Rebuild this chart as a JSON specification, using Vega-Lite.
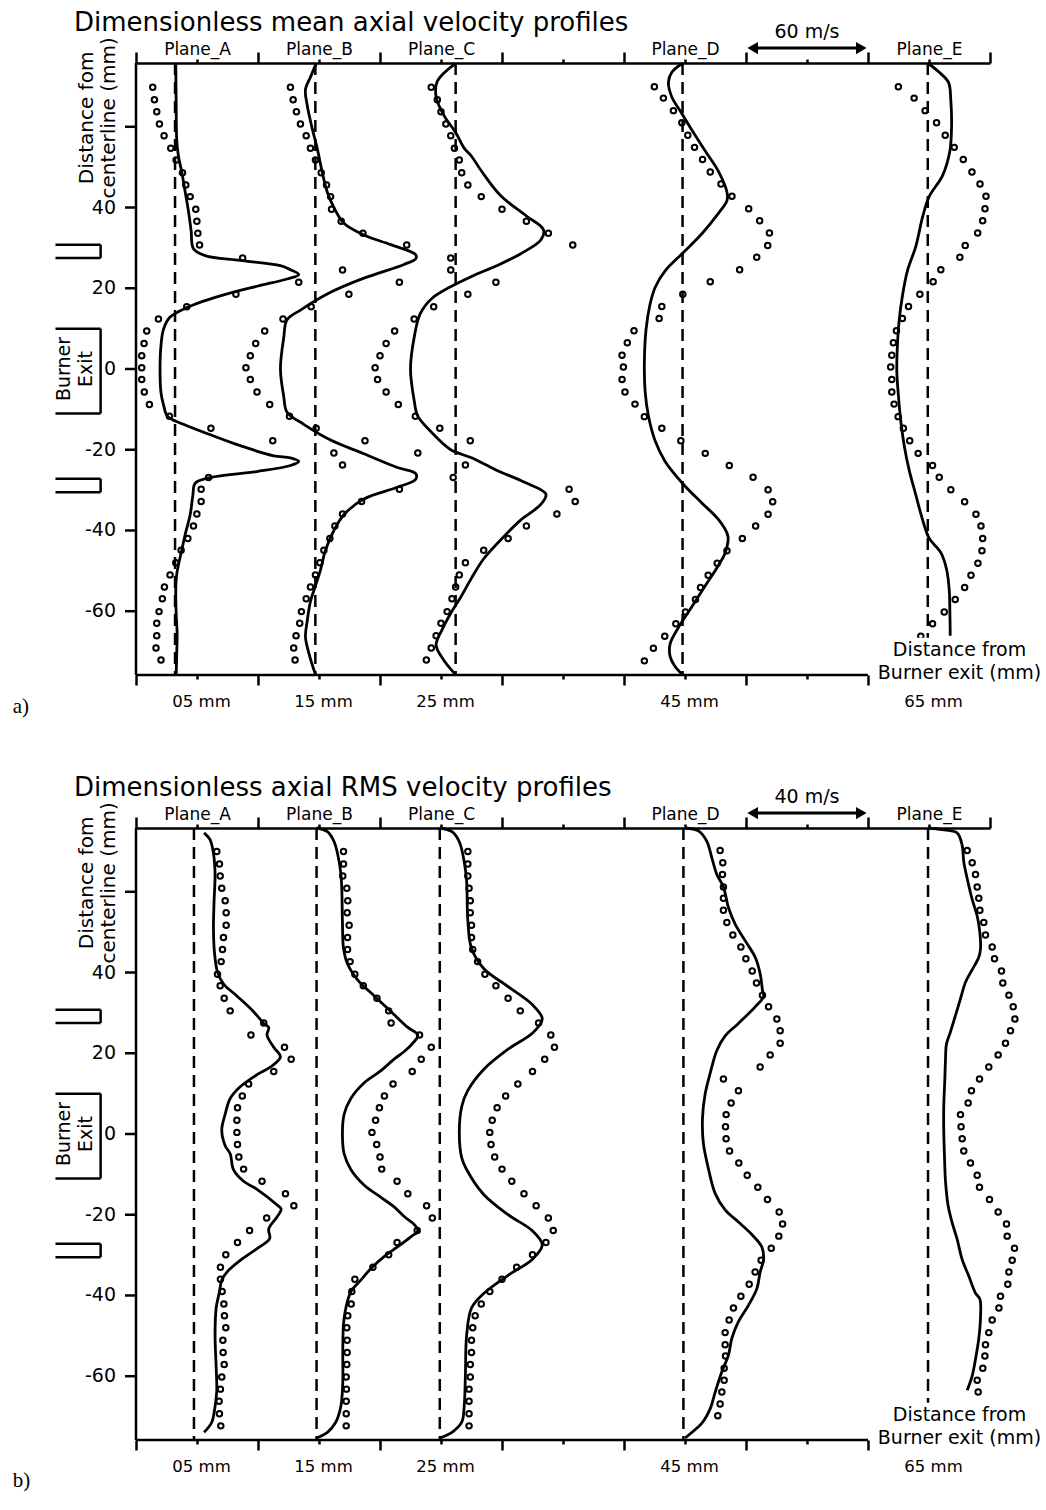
{
  "$schema": "https://vega.github.io/schema/vega-lite/v6.json",
  "background": "white",
  "padding": {"left": 12, "top": 9, "right": 4, "bottom": 4},
  "bounds": "flush",
  "spacing": 153,
  "config": {
    "font": "DejaVu Sans",
    "view": {"stroke": null},
    "axis": {
      "domainColor": "black", "tickColor": "black", "labelColor": "black", "titleColor": "black",
      "domainWidth": 2.5, "tickWidth": 2.5, "grid": false,
      "labelFont": "DejaVu Sans", "titleFont": "DejaVu Sans", "titleFontWeight": "normal"
    }
  },
  "datasets": {
    "yticks": [{"v": -60}, {"v": -40}, {"v": -20}, {"v": 0}, {"v": 20}, {"v": 40}, {"v": 60}],
    "zeros": [
      {"p": "a", "s": "A", "x": 3.2}, {"p": "a", "s": "B", "x": 14.7}, {"p": "a", "s": "C", "x": 26.2}, {"p": "a", "s": "D", "x": 44.8}, {"p": "a", "s": "E", "x": 64.9},
      {"p": "b", "s": "A", "x": 4.75}, {"p": "b", "s": "B", "x": 14.8}, {"p": "b", "s": "C", "x": 24.9}, {"p": "b", "s": "D", "x": 44.87}, {"p": "b", "s": "E", "x": 64.92}
    ],
    "burner": [
      {"x": -6.6, "x2": -2.9, "y": 30.8, "y2": 30.8}, {"x": -2.9, "x2": -2.9, "y": 27.5, "y2": 30.8}, {"x": -6.6, "x2": -2.9, "y": 27.5, "y2": 27.5},
      {"x": -6.6, "x2": -2.9, "y": -27.2, "y2": -27.2}, {"x": -2.9, "x2": -2.9, "y": -30.5, "y2": -27.2}, {"x": -6.6, "x2": -2.9, "y": -30.5, "y2": -30.5},
      {"x": -6.6, "x2": -2.9, "y": 10.0, "y2": 10.0}, {"x": -2.9, "x2": -2.9, "y": -11.0, "y2": 10.0}, {"x": -6.6, "x2": -2.9, "y": -11.0, "y2": -11.0}
    ],
    "lines": [
      {"p":"a","s":"A","x":3.26,"y":75.7},{"p":"a","s":"A","x":3.29,"y":66.4},{"p":"a","s":"A","x":3.34,"y":56.6},{"p":"a","s":"A","x":3.48,"y":52.7},{"p":"a","s":"A","x":3.75,"y":48.8},{"p":"a","s":"A","x":4.03,"y":43.9},{"p":"a","s":"A","x":4.30,"y":39.1},{"p":"a","s":"A","x":4.52,"y":34.2},{"p":"a","s":"A","x":4.71,"y":29.8},{"p":"a","s":"A","x":5.67,"y":28.1},{"p":"a","s":"A","x":8.55,"y":26.9},{"p":"a","s":"A","x":11.84,"y":25.6},{"p":"a","s":"A","x":12.66,"y":24.6},{"p":"a","s":"A","x":13.34,"y":23.4},{"p":"a","s":"A","x":12.38,"y":22.3},{"p":"a","s":"A","x":9.92,"y":20.5},{"p":"a","s":"A","x":6.90,"y":18.1},{"p":"a","s":"A","x":4.16,"y":15.2},{"p":"a","s":"A","x":2.74,"y":12.7},{"p":"a","s":"A","x":2.25,"y":9.8},{"p":"a","s":"A","x":2.05,"y":5.9},{"p":"a","s":"A","x":1.97,"y":0},{"p":"a","s":"A","x":2.05,"y":-5.9},{"p":"a","s":"A","x":2.25,"y":-8.8},{"p":"a","s":"A","x":2.58,"y":-11.7},{"p":"a","s":"A","x":3.89,"y":-13.7},{"p":"a","s":"A","x":6.36,"y":-16.6},{"p":"a","s":"A","x":8.55,"y":-19.0},{"p":"a","s":"A","x":11.29,"y":-21.5},{"p":"a","s":"A","x":12.66,"y":-22.0},{"p":"a","s":"A","x":13.34,"y":-22.9},{"p":"a","s":"A","x":12.66,"y":-23.9},{"p":"a","s":"A","x":9.92,"y":-25.4},{"p":"a","s":"A","x":6.08,"y":-26.9},{"p":"a","s":"A","x":4.85,"y":-28.3},{"p":"a","s":"A","x":4.66,"y":-31.3},{"p":"a","s":"A","x":4.44,"y":-36.1},{"p":"a","s":"A","x":4.03,"y":-41.0},{"p":"a","s":"A","x":3.75,"y":-44.9},{"p":"a","s":"A","x":3.34,"y":-50.8},{"p":"a","s":"A","x":3.26,"y":-54.7},{"p":"a","s":"A","x":3.29,"y":-60.5},{"p":"a","s":"A","x":3.37,"y":-65.4},{"p":"a","s":"A","x":3.34,"y":-70.3},{"p":"a","s":"A","x":3.29,"y":-75.7},
      {"p":"a","s":"B","x":14.77,"y":75.7},{"p":"a","s":"B","x":14.30,"y":72.3},{"p":"a","s":"B","x":13.89,"y":69.3},{"p":"a","s":"B","x":14.03,"y":65.4},{"p":"a","s":"B","x":14.44,"y":59.6},{"p":"a","s":"B","x":14.85,"y":54.7},{"p":"a","s":"B","x":15.26,"y":48.8},{"p":"a","s":"B","x":15.67,"y":43.9},{"p":"a","s":"B","x":16.22,"y":40.0},{"p":"a","s":"B","x":17.04,"y":36.1},{"p":"a","s":"B","x":18.68,"y":33.2},{"p":"a","s":"B","x":20.88,"y":30.8},{"p":"a","s":"B","x":22.93,"y":28.3},{"p":"a","s":"B","x":22.93,"y":27.3},{"p":"a","s":"B","x":21.97,"y":25.9},{"p":"a","s":"B","x":18.68,"y":22.5},{"p":"a","s":"B","x":15.95,"y":19.0},{"p":"a","s":"B","x":13.48,"y":14.6},{"p":"a","s":"B","x":12.38,"y":12.2},{"p":"a","s":"B","x":12.11,"y":7.8},{"p":"a","s":"B","x":11.84,"y":0},{"p":"a","s":"B","x":12.11,"y":-6.8},{"p":"a","s":"B","x":12.38,"y":-10.7},{"p":"a","s":"B","x":13.75,"y":-13.7},{"p":"a","s":"B","x":15.95,"y":-17.6},{"p":"a","s":"B","x":18.68,"y":-21.0},{"p":"a","s":"B","x":21.42,"y":-24.4},{"p":"a","s":"B","x":22.93,"y":-25.9},{"p":"a","s":"B","x":22.93,"y":-27.3},{"p":"a","s":"B","x":21.42,"y":-29.3},{"p":"a","s":"B","x":18.68,"y":-32.2},{"p":"a","s":"B","x":17.04,"y":-36.1},{"p":"a","s":"B","x":16.22,"y":-40.0},{"p":"a","s":"B","x":15.53,"y":-44.9},{"p":"a","s":"B","x":15.12,"y":-49.8},{"p":"a","s":"B","x":14.71,"y":-53.7},{"p":"a","s":"B","x":14.30,"y":-57.6},{"p":"a","s":"B","x":14.03,"y":-62.5},{"p":"a","s":"B","x":13.89,"y":-66.4},{"p":"a","s":"B","x":14.16,"y":-70.3},{"p":"a","s":"B","x":14.71,"y":-75.7},
      {"p":"a","s":"C","x":26.2,"y":75.7},{"p":"a","s":"C","x":24.7,"y":71.3},{"p":"a","s":"C","x":24.6,"y":67.4},{"p":"a","s":"C","x":25.3,"y":62.5},{"p":"a","s":"C","x":26.2,"y":58.6},{"p":"a","s":"C","x":26.9,"y":54.7},{"p":"a","s":"C","x":27.5,"y":52.7},{"p":"a","s":"C","x":28.3,"y":49.1},{"p":"a","s":"C","x":29.9,"y":42.9},{"p":"a","s":"C","x":32.0,"y":37.9},{"p":"a","s":"C","x":33.4,"y":34.5},{"p":"a","s":"C","x":33.2,"y":32.0},{"p":"a","s":"C","x":31.5,"y":28.5},{"p":"a","s":"C","x":29.5,"y":25.5},{"p":"a","s":"C","x":27.5,"y":22.9},{"p":"a","s":"C","x":24.3,"y":17.6},{"p":"a","s":"C","x":23.3,"y":13.7},{"p":"a","s":"C","x":22.8,"y":7.8},{"p":"a","s":"C","x":22.5,"y":0},{"p":"a","s":"C","x":22.8,"y":-7.8},{"p":"a","s":"C","x":23.1,"y":-11.7},{"p":"a","s":"C","x":24.2,"y":-15.6},{"p":"a","s":"C","x":25.8,"y":-20.0},{"p":"a","s":"C","x":27.5,"y":-22.0},{"p":"a","s":"C","x":29.5,"y":-25.0},{"p":"a","s":"C","x":31.8,"y":-28.0},{"p":"a","s":"C","x":33.6,"y":-31.0},{"p":"a","s":"C","x":33.2,"y":-33.5},{"p":"a","s":"C","x":31.5,"y":-37.5},{"p":"a","s":"C","x":30.0,"y":-42.0},{"p":"a","s":"C","x":28.5,"y":-47.0},{"p":"a","s":"C","x":27.5,"y":-51.8},{"p":"a","s":"C","x":26.6,"y":-56.6},{"p":"a","s":"C","x":25.8,"y":-60.5},{"p":"a","s":"C","x":25.1,"y":-64.5},{"p":"a","s":"C","x":24.6,"y":-68.4},{"p":"a","s":"C","x":25.2,"y":-72.0},{"p":"a","s":"C","x":26.2,"y":-75.7},
      {"p":"a","s":"D","x":44.82,"y":75.8},{"p":"a","s":"D","x":43.92,"y":73.5},{"p":"a","s":"D","x":43.64,"y":71.0},{"p":"a","s":"D","x":43.92,"y":67.4},{"p":"a","s":"D","x":44.74,"y":63.3},{"p":"a","s":"D","x":45.56,"y":59.2},{"p":"a","s":"D","x":46.66,"y":54.0},{"p":"a","s":"D","x":47.75,"y":48.9},{"p":"a","s":"D","x":48.44,"y":43.8},{"p":"a","s":"D","x":48.44,"y":41.7},{"p":"a","s":"D","x":47.75,"y":38.6},{"p":"a","s":"D","x":46.38,"y":33.5},{"p":"a","s":"D","x":44.88,"y":28.9},{"p":"a","s":"D","x":43.37,"y":24.3},{"p":"a","s":"D","x":42.55,"y":20.2},{"p":"a","s":"D","x":42.14,"y":16.1},{"p":"a","s":"D","x":41.81,"y":9.9},{"p":"a","s":"D","x":41.67,"y":1.7},{"p":"a","s":"D","x":41.73,"y":-5.5},{"p":"a","s":"D","x":42.00,"y":-11.6},{"p":"a","s":"D","x":42.55,"y":-17.8},{"p":"a","s":"D","x":43.37,"y":-22.9},{"p":"a","s":"D","x":44.88,"y":-28.6},{"p":"a","s":"D","x":46.38,"y":-33.2},{"p":"a","s":"D","x":47.75,"y":-37.3},{"p":"a","s":"D","x":48.52,"y":-41.4},{"p":"a","s":"D","x":48.30,"y":-45.5},{"p":"a","s":"D","x":47.75,"y":-48.6},{"p":"a","s":"D","x":46.66,"y":-53.7},{"p":"a","s":"D","x":45.56,"y":-58.9},{"p":"a","s":"D","x":44.47,"y":-64.0},{"p":"a","s":"D","x":43.78,"y":-68.1},{"p":"a","s":"D","x":43.78,"y":-71.2},{"p":"a","s":"D","x":44.19,"y":-73.7},{"p":"a","s":"D","x":44.82,"y":-75.8},
      {"p":"a","s":"E","x":64.88,"y":75.8},{"p":"a","s":"E","x":65.84,"y":73.5},{"p":"a","s":"E","x":66.60,"y":71.0},{"p":"a","s":"E","x":66.79,"y":66.4},{"p":"a","s":"E","x":66.85,"y":60.2},{"p":"a","s":"E","x":66.71,"y":54.0},{"p":"a","s":"E","x":66.11,"y":47.9},{"p":"a","s":"E","x":65.01,"y":42.7},{"p":"a","s":"E","x":64.47,"y":37.6},{"p":"a","s":"E","x":63.92,"y":30.4},{"p":"a","s":"E","x":63.23,"y":24.3},{"p":"a","s":"E","x":62.82,"y":18.1},{"p":"a","s":"E","x":62.55,"y":11.9},{"p":"a","s":"E","x":62.41,"y":5.8},{"p":"a","s":"E","x":62.36,"y":-0.4},{"p":"a","s":"E","x":62.49,"y":-6.5},{"p":"a","s":"E","x":62.68,"y":-12.7},{"p":"a","s":"E","x":62.96,"y":-18.8},{"p":"a","s":"E","x":63.37,"y":-25.0},{"p":"a","s":"E","x":63.92,"y":-31.2},{"p":"a","s":"E","x":64.47,"y":-37.3},{"p":"a","s":"E","x":65.01,"y":-41.9},{"p":"a","s":"E","x":65.97,"y":-45.5},{"p":"a","s":"E","x":66.44,"y":-49.6},{"p":"a","s":"E","x":66.66,"y":-54.8},{"p":"a","s":"E","x":66.71,"y":-59.9},{"p":"a","s":"E","x":66.74,"y":-66.1},
      {"p":"b","s":"A","x":5.58,"y":74.6},{"p":"b","s":"A","x":6.07,"y":72.9},{"p":"b","s":"A","x":6.35,"y":69.5},{"p":"b","s":"A","x":6.48,"y":64.6},{"p":"b","s":"A","x":6.40,"y":57.7},{"p":"b","s":"A","x":6.35,"y":50.9},{"p":"b","s":"A","x":6.43,"y":45.0},{"p":"b","s":"A","x":6.68,"y":40.1},{"p":"b","s":"A","x":7.17,"y":37.2},{"p":"b","s":"A","x":8.27,"y":34.2},{"p":"b","s":"A","x":9.64,"y":30.3},{"p":"b","s":"A","x":10.47,"y":27.4},{"p":"b","s":"A","x":10.88,"y":26.4},{"p":"b","s":"A","x":10.74,"y":24.5},{"p":"b","s":"A","x":11.29,"y":21.5},{"p":"b","s":"A","x":11.84,"y":19.1},{"p":"b","s":"A","x":11.02,"y":16.6},{"p":"b","s":"A","x":9.92,"y":14.7},{"p":"b","s":"A","x":8.54,"y":11.7},{"p":"b","s":"A","x":7.72,"y":8.8},{"p":"b","s":"A","x":7.31,"y":4.9},{"p":"b","s":"A","x":7.03,"y":1.0},{"p":"b","s":"A","x":7.31,"y":-2.9},{"p":"b","s":"A","x":7.72,"y":-4.9},{"p":"b","s":"A","x":7.99,"y":-8.8},{"p":"b","s":"A","x":8.82,"y":-11.7},{"p":"b","s":"A","x":9.92,"y":-13.7},{"p":"b","s":"A","x":11.57,"y":-17.6},{"p":"b","s":"A","x":11.90,"y":-18.6},{"p":"b","s":"A","x":11.57,"y":-20.5},{"p":"b","s":"A","x":10.88,"y":-23.5},{"p":"b","s":"A","x":10.96,"y":-25.9},{"p":"b","s":"A","x":9.92,"y":-28.4},{"p":"b","s":"A","x":8.54,"y":-31.3},{"p":"b","s":"A","x":7.45,"y":-34.2},{"p":"b","s":"A","x":7.03,"y":-36.2},{"p":"b","s":"A","x":6.84,"y":-39.1},{"p":"b","s":"A","x":6.57,"y":-43.1},{"p":"b","s":"A","x":6.48,"y":-49.9},{"p":"b","s":"A","x":6.57,"y":-57.7},{"p":"b","s":"A","x":6.62,"y":-63.6},{"p":"b","s":"A","x":6.48,"y":-67.5},{"p":"b","s":"A","x":6.21,"y":-71.4},{"p":"b","s":"A","x":5.58,"y":-73.9},
      {"p":"b","s":"B","x":14.81,"y":75.8},{"p":"b","s":"B","x":15.69,"y":74.9},{"p":"b","s":"B","x":16.24,"y":72.4},{"p":"b","s":"B","x":16.65,"y":67.5},{"p":"b","s":"B","x":16.84,"y":62.6},{"p":"b","s":"B","x":16.92,"y":52.8},{"p":"b","s":"B","x":17.01,"y":46.0},{"p":"b","s":"B","x":17.34,"y":42.1},{"p":"b","s":"B","x":18.16,"y":38.2},{"p":"b","s":"B","x":19.53,"y":34.2},{"p":"b","s":"B","x":20.91,"y":30.3},{"p":"b","s":"B","x":22.28,"y":26.4},{"p":"b","s":"B","x":23.10,"y":24.5},{"p":"b","s":"B","x":22.69,"y":22.5},{"p":"b","s":"B","x":22.01,"y":20.5},{"p":"b","s":"B","x":21.18,"y":18.6},{"p":"b","s":"B","x":20.08,"y":15.7},{"p":"b","s":"B","x":18.71,"y":12.7},{"p":"b","s":"B","x":17.61,"y":8.8},{"p":"b","s":"B","x":17.06,"y":4.9},{"p":"b","s":"B","x":16.92,"y":0},{"p":"b","s":"B","x":17.06,"y":-4.9},{"p":"b","s":"B","x":17.61,"y":-8.8},{"p":"b","s":"B","x":18.71,"y":-12.7},{"p":"b","s":"B","x":20.08,"y":-15.7},{"p":"b","s":"B","x":21.18,"y":-18.1},{"p":"b","s":"B","x":22.01,"y":-20.5},{"p":"b","s":"B","x":22.83,"y":-22.5},{"p":"b","s":"B","x":23.10,"y":-24.0},{"p":"b","s":"B","x":22.55,"y":-25.4},{"p":"b","s":"B","x":21.46,"y":-27.9},{"p":"b","s":"B","x":20.36,"y":-30.3},{"p":"b","s":"B","x":19.26,"y":-33.3},{"p":"b","s":"B","x":18.43,"y":-36.2},{"p":"b","s":"B","x":17.61,"y":-39.1},{"p":"b","s":"B","x":17.20,"y":-43.1},{"p":"b","s":"B","x":17.01,"y":-47.0},{"p":"b","s":"B","x":16.95,"y":-53.8},{"p":"b","s":"B","x":16.95,"y":-61.6},{"p":"b","s":"B","x":16.79,"y":-67.5},{"p":"b","s":"B","x":16.37,"y":-71.4},{"p":"b","s":"B","x":15.69,"y":-73.9},{"p":"b","s":"B","x":14.81,"y":-75.3},
      {"p":"b","s":"C","x":24.9,"y":75.8},{"p":"b","s":"C","x":25.9,"y":74.9},{"p":"b","s":"C","x":26.5,"y":72.4},{"p":"b","s":"C","x":26.9,"y":67.5},{"p":"b","s":"C","x":27.1,"y":62.6},{"p":"b","s":"C","x":27.2,"y":52.8},{"p":"b","s":"C","x":27.5,"y":46.0},{"p":"b","s":"C","x":28.5,"y":41.0},{"p":"b","s":"C","x":30.5,"y":36.5},{"p":"b","s":"C","x":32.5,"y":32.0},{"p":"b","s":"C","x":33.3,"y":28.5},{"p":"b","s":"C","x":32.5,"y":25.0},{"p":"b","s":"C","x":30.5,"y":21.0},{"p":"b","s":"C","x":28.5,"y":16.0},{"p":"b","s":"C","x":27.2,"y":10.8},{"p":"b","s":"C","x":26.7,"y":6.8},{"p":"b","s":"C","x":26.5,"y":0},{"p":"b","s":"C","x":26.7,"y":-5.9},{"p":"b","s":"C","x":27.1,"y":-8.8},{"p":"b","s":"C","x":28.5,"y":-15.0},{"p":"b","s":"C","x":30.5,"y":-20.0},{"p":"b","s":"C","x":32.5,"y":-24.0},{"p":"b","s":"C","x":33.3,"y":-27.5},{"p":"b","s":"C","x":32.5,"y":-31.0},{"p":"b","s":"C","x":30.5,"y":-35.0},{"p":"b","s":"C","x":28.5,"y":-39.5},{"p":"b","s":"C","x":27.5,"y":-43.1},{"p":"b","s":"C","x":27.1,"y":-49.9},{"p":"b","s":"C","x":27.0,"y":-59.7},{"p":"b","s":"C","x":26.9,"y":-67.5},{"p":"b","s":"C","x":26.7,"y":-71.4},{"p":"b","s":"C","x":25.9,"y":-73.9},{"p":"b","s":"C","x":24.9,"y":-75.3},
      {"p":"b","s":"D","x":45.01,"y":75.8},{"p":"b","s":"D","x":46.10,"y":75.1},{"p":"b","s":"D","x":46.79,"y":72.5},{"p":"b","s":"D","x":47.20,"y":68.4},{"p":"b","s":"D","x":47.61,"y":64.3},{"p":"b","s":"D","x":48.15,"y":61.2},{"p":"b","s":"D","x":48.56,"y":56.1},{"p":"b","s":"D","x":49.11,"y":52.0},{"p":"b","s":"D","x":49.93,"y":47.9},{"p":"b","s":"D","x":50.75,"y":43.8},{"p":"b","s":"D","x":51.16,"y":39.7},{"p":"b","s":"D","x":51.35,"y":35.6},{"p":"b","s":"D","x":51.44,"y":34.0},{"p":"b","s":"D","x":50.75,"y":31.5},{"p":"b","s":"D","x":49.38,"y":27.4},{"p":"b","s":"D","x":48.29,"y":24.3},{"p":"b","s":"D","x":47.61,"y":20.7},{"p":"b","s":"D","x":47.06,"y":15.0},{"p":"b","s":"D","x":46.65,"y":9.9},{"p":"b","s":"D","x":46.43,"y":3.7},{"p":"b","s":"D","x":46.51,"y":-2.4},{"p":"b","s":"D","x":46.92,"y":-8.6},{"p":"b","s":"D","x":47.47,"y":-14.7},{"p":"b","s":"D","x":48.29,"y":-18.8},{"p":"b","s":"D","x":49.38,"y":-21.8},{"p":"b","s":"D","x":50.48,"y":-24.9},{"p":"b","s":"D","x":51.30,"y":-28.0},{"p":"b","s":"D","x":51.44,"y":-31.1},{"p":"b","s":"D","x":51.16,"y":-34.2},{"p":"b","s":"D","x":50.89,"y":-38.3},{"p":"b","s":"D","x":50.21,"y":-42.4},{"p":"b","s":"D","x":49.38,"y":-46.5},{"p":"b","s":"D","x":48.84,"y":-50.6},{"p":"b","s":"D","x":48.56,"y":-54.8},{"p":"b","s":"D","x":48.02,"y":-58.9},{"p":"b","s":"D","x":47.47,"y":-64.0},{"p":"b","s":"D","x":47.06,"y":-68.1},{"p":"b","s":"D","x":46.37,"y":-71.7},{"p":"b","s":"D","x":45.01,"y":-75.3},
      {"p":"b","s":"E","x":64.92,"y":75.8},{"p":"b","s":"E","x":66.07,"y":75.4},{"p":"b","s":"E","x":67.30,"y":74.6},{"p":"b","s":"E","x":67.72,"y":71.5},{"p":"b","s":"E","x":67.85,"y":67.4},{"p":"b","s":"E","x":68.13,"y":63.3},{"p":"b","s":"E","x":68.54,"y":58.1},{"p":"b","s":"E","x":68.95,"y":54.0},{"p":"b","s":"E","x":69.17,"y":49.9},{"p":"b","s":"E","x":69.22,"y":45.8},{"p":"b","s":"E","x":69.08,"y":43.8},{"p":"b","s":"E","x":68.54,"y":40.7},{"p":"b","s":"E","x":67.99,"y":37.6},{"p":"b","s":"E","x":67.58,"y":33.5},{"p":"b","s":"E","x":67.17,"y":29.4},{"p":"b","s":"E","x":66.76,"y":25.3},{"p":"b","s":"E","x":66.43,"y":22.3},{"p":"b","s":"E","x":66.35,"y":18.2},{"p":"b","s":"E","x":66.29,"y":13.0},{"p":"b","s":"E","x":66.21,"y":6.9},{"p":"b","s":"E","x":66.21,"y":0.7},{"p":"b","s":"E","x":66.27,"y":-5.5},{"p":"b","s":"E","x":66.35,"y":-11.6},{"p":"b","s":"E","x":66.57,"y":-17.8},{"p":"b","s":"E","x":66.89,"y":-21.9},{"p":"b","s":"E","x":67.30,"y":-26.0},{"p":"b","s":"E","x":67.72,"y":-31.1},{"p":"b","s":"E","x":68.26,"y":-35.2},{"p":"b","s":"E","x":68.81,"y":-39.4},{"p":"b","s":"E","x":69.17,"y":-40.9},{"p":"b","s":"E","x":69.22,"y":-45.5},{"p":"b","s":"E","x":69.08,"y":-50.7},{"p":"b","s":"E","x":68.81,"y":-55.8},{"p":"b","s":"E","x":68.54,"y":-59.9},{"p":"b","s":"E","x":68.13,"y":-63.5}
    ],
    "pts": [
      {"p":"a","s":"A","x":1.37,"y":69.8},{"p":"a","s":"A","x":1.51,"y":66.7},{"p":"a","s":"A","x":1.70,"y":63.7},{"p":"a","s":"A","x":1.92,"y":60.7},{"p":"a","s":"A","x":2.30,"y":57.8},{"p":"a","s":"A","x":2.85,"y":54.7},{"p":"a","s":"A","x":3.29,"y":51.8},{"p":"a","s":"A","x":3.81,"y":48.6},{"p":"a","s":"A","x":4.08,"y":45.6},{"p":"a","s":"A","x":4.44,"y":42.7},{"p":"a","s":"A","x":4.90,"y":39.6},{"p":"a","s":"A","x":4.99,"y":36.6},{"p":"a","s":"A","x":5.07,"y":33.6},{"p":"a","s":"A","x":5.21,"y":30.7},{"p":"a","s":"A","x":8.74,"y":27.5},{"p":"a","s":"A","x":13.34,"y":21.5},{"p":"a","s":"A","x":8.19,"y":18.5},{"p":"a","s":"A","x":4.16,"y":15.4},{"p":"a","s":"A","x":1.84,"y":12.4},{"p":"a","s":"A","x":0.88,"y":9.4},{"p":"a","s":"A","x":0.66,"y":6.3},{"p":"a","s":"A","x":0.47,"y":3.3},{"p":"a","s":"A","x":0.47,"y":0.3},{"p":"a","s":"A","x":0.47,"y":-2.6},{"p":"a","s":"A","x":0.68,"y":-5.7},{"p":"a","s":"A","x":1.10,"y":-8.8},{"p":"a","s":"A","x":2.74,"y":-11.7},{"p":"a","s":"A","x":6.14,"y":-14.7},{"p":"a","s":"A","x":11.21,"y":-17.8},{"p":"a","s":"A","x":5.95,"y":-26.9},{"p":"a","s":"A","x":5.34,"y":-29.8},{"p":"a","s":"A","x":5.34,"y":-32.8},{"p":"a","s":"A","x":4.99,"y":-35.9},{"p":"a","s":"A","x":4.71,"y":-38.9},{"p":"a","s":"A","x":4.25,"y":-42.0},{"p":"a","s":"A","x":3.70,"y":-44.9},{"p":"a","s":"A","x":3.26,"y":-48.0},{"p":"a","s":"A","x":2.79,"y":-51.0},{"p":"a","s":"A","x":2.33,"y":-54.0},{"p":"a","s":"A","x":2.16,"y":-56.9},{"p":"a","s":"A","x":1.89,"y":-60.1},{"p":"a","s":"A","x":1.70,"y":-63.0},{"p":"a","s":"A","x":1.70,"y":-66.1},{"p":"a","s":"A","x":1.64,"y":-69.1},{"p":"a","s":"A","x":2.05,"y":-72.1},
      {"p":"a","s":"B","x":12.66,"y":69.8},{"p":"a","s":"B","x":12.88,"y":66.7},{"p":"a","s":"B","x":13.15,"y":63.7},{"p":"a","s":"B","x":13.48,"y":60.7},{"p":"a","s":"B","x":13.95,"y":57.8},{"p":"a","s":"B","x":14.30,"y":54.7},{"p":"a","s":"B","x":14.71,"y":51.8},{"p":"a","s":"B","x":15.18,"y":48.6},{"p":"a","s":"B","x":15.62,"y":45.6},{"p":"a","s":"B","x":15.95,"y":42.7},{"p":"a","s":"B","x":16.03,"y":39.6},{"p":"a","s":"B","x":16.82,"y":36.6},{"p":"a","s":"B","x":18.60,"y":33.6},{"p":"a","s":"B","x":22.19,"y":30.7},{"p":"a","s":"B","x":16.93,"y":24.5},{"p":"a","s":"B","x":21.59,"y":21.5},{"p":"a","s":"B","x":17.45,"y":18.5},{"p":"a","s":"B","x":14.36,"y":15.4},{"p":"a","s":"B","x":12.05,"y":12.4},{"p":"a","s":"B","x":10.55,"y":9.4},{"p":"a","s":"B","x":9.81,"y":6.3},{"p":"a","s":"B","x":9.37,"y":3.3},{"p":"a","s":"B","x":9.01,"y":0.3},{"p":"a","s":"B","x":9.37,"y":-2.6},{"p":"a","s":"B","x":9.92,"y":-5.7},{"p":"a","s":"B","x":10.96,"y":-8.8},{"p":"a","s":"B","x":12.58,"y":-11.7},{"p":"a","s":"B","x":14.77,"y":-14.7},{"p":"a","s":"B","x":18.77,"y":-17.8},{"p":"a","s":"B","x":16.22,"y":-20.8},{"p":"a","s":"B","x":16.93,"y":-23.8},{"p":"a","s":"B","x":21.59,"y":-29.8},{"p":"a","s":"B","x":18.49,"y":-32.8},{"p":"a","s":"B","x":16.93,"y":-35.9},{"p":"a","s":"B","x":16.30,"y":-38.9},{"p":"a","s":"B","x":15.89,"y":-42.0},{"p":"a","s":"B","x":15.40,"y":-44.9},{"p":"a","s":"B","x":15.07,"y":-48.0},{"p":"a","s":"B","x":14.71,"y":-51.0},{"p":"a","s":"B","x":14.30,"y":-54.0},{"p":"a","s":"B","x":13.95,"y":-56.9},{"p":"a","s":"B","x":13.56,"y":-60.1},{"p":"a","s":"B","x":13.42,"y":-63.0},{"p":"a","s":"B","x":13.12,"y":-66.1},{"p":"a","s":"B","x":12.93,"y":-69.1},{"p":"a","s":"B","x":13.04,"y":-72.1},
      {"p":"a","s":"C","x":24.2,"y":69.8},{"p":"a","s":"C","x":24.7,"y":66.7},{"p":"a","s":"C","x":25.0,"y":63.7},{"p":"a","s":"C","x":25.4,"y":60.7},{"p":"a","s":"C","x":25.8,"y":57.8},{"p":"a","s":"C","x":26.1,"y":54.7},{"p":"a","s":"C","x":26.5,"y":51.8},{"p":"a","s":"C","x":26.7,"y":48.6},{"p":"a","s":"C","x":27.2,"y":45.6},{"p":"a","s":"C","x":28.3,"y":42.7},{"p":"a","s":"C","x":30.0,"y":39.6},{"p":"a","s":"C","x":32.0,"y":36.6},{"p":"a","s":"C","x":33.8,"y":33.6},{"p":"a","s":"C","x":35.8,"y":30.7},{"p":"a","s":"C","x":25.8,"y":27.5},{"p":"a","s":"C","x":25.8,"y":24.5},{"p":"a","s":"C","x":29.5,"y":21.5},{"p":"a","s":"C","x":27.2,"y":18.5},{"p":"a","s":"C","x":24.4,"y":15.4},{"p":"a","s":"C","x":22.8,"y":12.4},{"p":"a","s":"C","x":21.2,"y":9.4},{"p":"a","s":"C","x":20.5,"y":6.3},{"p":"a","s":"C","x":20.0,"y":3.3},{"p":"a","s":"C","x":19.6,"y":0.3},{"p":"a","s":"C","x":19.8,"y":-2.6},{"p":"a","s":"C","x":20.5,"y":-5.7},{"p":"a","s":"C","x":21.5,"y":-8.8},{"p":"a","s":"C","x":22.9,"y":-11.7},{"p":"a","s":"C","x":24.9,"y":-14.7},{"p":"a","s":"C","x":27.4,"y":-17.8},{"p":"a","s":"C","x":23.1,"y":-20.8},{"p":"a","s":"C","x":27.0,"y":-23.8},{"p":"a","s":"C","x":26.0,"y":-26.9},{"p":"a","s":"C","x":35.5,"y":-29.8},{"p":"a","s":"C","x":36.0,"y":-32.8},{"p":"a","s":"C","x":34.5,"y":-35.9},{"p":"a","s":"C","x":32.0,"y":-38.9},{"p":"a","s":"C","x":30.5,"y":-42.0},{"p":"a","s":"C","x":28.5,"y":-44.9},{"p":"a","s":"C","x":27.0,"y":-48.0},{"p":"a","s":"C","x":26.5,"y":-51.0},{"p":"a","s":"C","x":26.2,"y":-54.0},{"p":"a","s":"C","x":25.9,"y":-56.9},{"p":"a","s":"C","x":25.5,"y":-60.1},{"p":"a","s":"C","x":25.0,"y":-63.0},{"p":"a","s":"C","x":24.6,"y":-66.1},{"p":"a","s":"C","x":24.2,"y":-69.1},{"p":"a","s":"C","x":23.8,"y":-72.1},
      {"p":"a","s":"D","x":42.49,"y":69.9},{"p":"a","s":"D","x":43.23,"y":67.1},{"p":"a","s":"D","x":44.05,"y":64.0},{"p":"a","s":"D","x":44.74,"y":61.0},{"p":"a","s":"D","x":45.23,"y":57.9},{"p":"a","s":"D","x":45.78,"y":54.9},{"p":"a","s":"D","x":46.44,"y":51.9},{"p":"a","s":"D","x":47.07,"y":48.8},{"p":"a","s":"D","x":47.95,"y":45.8},{"p":"a","s":"D","x":48.85,"y":42.8},{"p":"a","s":"D","x":50.22,"y":39.7},{"p":"a","s":"D","x":51.12,"y":36.7},{"p":"a","s":"D","x":51.92,"y":33.7},{"p":"a","s":"D","x":51.78,"y":30.6},{"p":"a","s":"D","x":50.88,"y":27.7},{"p":"a","s":"D","x":49.48,"y":24.6},{"p":"a","s":"D","x":47.07,"y":21.6},{"p":"a","s":"D","x":44.82,"y":18.5},{"p":"a","s":"D","x":43.10,"y":15.5},{"p":"a","s":"D","x":42.88,"y":12.5},{"p":"a","s":"D","x":40.82,"y":9.5},{"p":"a","s":"D","x":40.27,"y":6.5},{"p":"a","s":"D","x":39.84,"y":3.4},{"p":"a","s":"D","x":39.95,"y":0.5},{"p":"a","s":"D","x":39.84,"y":-2.6},{"p":"a","s":"D","x":40.08,"y":-5.7},{"p":"a","s":"D","x":40.90,"y":-8.7},{"p":"a","s":"D","x":41.67,"y":-11.8},{"p":"a","s":"D","x":43.10,"y":-14.7},{"p":"a","s":"D","x":44.66,"y":-17.8},{"p":"a","s":"D","x":46.66,"y":-20.9},{"p":"a","s":"D","x":48.63,"y":-23.9},{"p":"a","s":"D","x":50.58,"y":-26.8},{"p":"a","s":"D","x":51.81,"y":-29.9},{"p":"a","s":"D","x":52.19,"y":-32.9},{"p":"a","s":"D","x":51.81,"y":-36.0},{"p":"a","s":"D","x":50.79,"y":-38.9},{"p":"a","s":"D","x":49.70,"y":-42.0},{"p":"a","s":"D","x":48.44,"y":-45.0},{"p":"a","s":"D","x":47.64,"y":-48.1},{"p":"a","s":"D","x":46.90,"y":-51.1},{"p":"a","s":"D","x":46.27,"y":-54.1},{"p":"a","s":"D","x":45.86,"y":-57.1},{"p":"a","s":"D","x":45.04,"y":-60.2},{"p":"a","s":"D","x":44.25,"y":-63.1},{"p":"a","s":"D","x":43.34,"y":-66.2},{"p":"a","s":"D","x":42.41,"y":-69.2},{"p":"a","s":"D","x":41.67,"y":-72.3},
      {"p":"a","s":"E","x":62.49,"y":69.9},{"p":"a","s":"E","x":63.78,"y":67.1},{"p":"a","s":"E","x":64.68,"y":64.0},{"p":"a","s":"E","x":65.62,"y":61.0},{"p":"a","s":"E","x":66.33,"y":57.9},{"p":"a","s":"E","x":67.07,"y":54.9},{"p":"a","s":"E","x":67.81,"y":51.9},{"p":"a","s":"E","x":68.52,"y":48.8},{"p":"a","s":"E","x":69.18,"y":45.8},{"p":"a","s":"E","x":69.67,"y":42.8},{"p":"a","s":"E","x":69.59,"y":39.7},{"p":"a","s":"E","x":69.40,"y":36.7},{"p":"a","s":"E","x":68.99,"y":33.7},{"p":"a","s":"E","x":67.97,"y":30.6},{"p":"a","s":"E","x":67.53,"y":27.7},{"p":"a","s":"E","x":65.97,"y":24.6},{"p":"a","s":"E","x":65.34,"y":21.6},{"p":"a","s":"E","x":64.25,"y":18.5},{"p":"a","s":"E","x":63.32,"y":15.5},{"p":"a","s":"E","x":62.82,"y":12.5},{"p":"a","s":"E","x":62.33,"y":9.5},{"p":"a","s":"E","x":62.08,"y":6.5},{"p":"a","s":"E","x":61.95,"y":3.4},{"p":"a","s":"E","x":61.86,"y":0.5},{"p":"a","s":"E","x":61.95,"y":-2.6},{"p":"a","s":"E","x":61.95,"y":-5.7},{"p":"a","s":"E","x":62.14,"y":-8.7},{"p":"a","s":"E","x":62.47,"y":-11.8},{"p":"a","s":"E","x":62.90,"y":-14.7},{"p":"a","s":"E","x":63.42,"y":-17.8},{"p":"a","s":"E","x":64.11,"y":-20.9},{"p":"a","s":"E","x":65.29,"y":-23.9},{"p":"a","s":"E","x":65.84,"y":-26.8},{"p":"a","s":"E","x":66.79,"y":-29.9},{"p":"a","s":"E","x":67.92,"y":-32.9},{"p":"a","s":"E","x":68.85,"y":-36.0},{"p":"a","s":"E","x":69.26,"y":-38.9},{"p":"a","s":"E","x":69.40,"y":-42.0},{"p":"a","s":"E","x":69.34,"y":-45.0},{"p":"a","s":"E","x":69.01,"y":-48.1},{"p":"a","s":"E","x":68.44,"y":-51.1},{"p":"a","s":"E","x":67.92,"y":-54.1},{"p":"a","s":"E","x":67.15,"y":-57.1},{"p":"a","s":"E","x":66.25,"y":-60.2},{"p":"a","s":"E","x":65.29,"y":-63.1},{"p":"a","s":"E","x":64.33,"y":-66.2},
      {"p":"b","s":"A","x":6.62,"y":70.0},{"p":"b","s":"A","x":6.84,"y":66.9},{"p":"b","s":"A","x":6.90,"y":63.9},{"p":"b","s":"A","x":7.03,"y":60.9},{"p":"b","s":"A","x":7.31,"y":57.8},{"p":"b","s":"A","x":7.39,"y":54.8},{"p":"b","s":"A","x":7.39,"y":51.7},{"p":"b","s":"A","x":7.17,"y":48.7},{"p":"b","s":"A","x":7.09,"y":45.7},{"p":"b","s":"A","x":6.98,"y":42.7},{"p":"b","s":"A","x":6.68,"y":39.6},{"p":"b","s":"A","x":6.90,"y":36.7},{"p":"b","s":"A","x":7.23,"y":33.6},{"p":"b","s":"A","x":7.72,"y":30.5},{"p":"b","s":"A","x":10.47,"y":27.5},{"p":"b","s":"A","x":9.42,"y":24.5},{"p":"b","s":"A","x":12.17,"y":21.5},{"p":"b","s":"A","x":12.72,"y":18.5},{"p":"b","s":"A","x":11.29,"y":15.5},{"p":"b","s":"A","x":9.23,"y":12.4},{"p":"b","s":"A","x":8.71,"y":9.4},{"p":"b","s":"A","x":8.32,"y":6.5},{"p":"b","s":"A","x":8.27,"y":3.4},{"p":"b","s":"A","x":8.27,"y":0.4},{"p":"b","s":"A","x":8.32,"y":-2.6},{"p":"b","s":"A","x":8.43,"y":-5.7},{"p":"b","s":"A","x":8.82,"y":-8.7},{"p":"b","s":"A","x":10.33,"y":-11.7},{"p":"b","s":"A","x":12.25,"y":-14.8},{"p":"b","s":"A","x":12.94,"y":-17.8},{"p":"b","s":"A","x":10.71,"y":-20.8},{"p":"b","s":"A","x":9.31,"y":-23.9},{"p":"b","s":"A","x":8.32,"y":-26.9},{"p":"b","s":"A","x":7.36,"y":-29.9},{"p":"b","s":"A","x":6.92,"y":-33.0},{"p":"b","s":"A","x":6.92,"y":-36.0},{"p":"b","s":"A","x":7.06,"y":-39.0},{"p":"b","s":"A","x":7.20,"y":-42.1},{"p":"b","s":"A","x":7.25,"y":-45.0},{"p":"b","s":"A","x":7.36,"y":-48.0},{"p":"b","s":"A","x":7.12,"y":-51.1},{"p":"b","s":"A","x":7.14,"y":-54.1},{"p":"b","s":"A","x":7.23,"y":-57.1},{"p":"b","s":"A","x":7.03,"y":-60.2},{"p":"b","s":"A","x":6.92,"y":-63.2},{"p":"b","s":"A","x":6.81,"y":-66.2},{"p":"b","s":"A","x":6.84,"y":-69.3},{"p":"b","s":"A","x":6.95,"y":-72.3},
      {"p":"b","s":"B","x":17.01,"y":70.0},{"p":"b","s":"B","x":17.01,"y":66.9},{"p":"b","s":"B","x":16.95,"y":63.9},{"p":"b","s":"B","x":17.28,"y":60.9},{"p":"b","s":"B","x":17.36,"y":57.8},{"p":"b","s":"B","x":17.31,"y":54.8},{"p":"b","s":"B","x":17.47,"y":51.7},{"p":"b","s":"B","x":17.34,"y":48.7},{"p":"b","s":"B","x":17.34,"y":45.7},{"p":"b","s":"B","x":17.55,"y":42.7},{"p":"b","s":"B","x":17.94,"y":39.6},{"p":"b","s":"B","x":18.63,"y":36.7},{"p":"b","s":"B","x":19.75,"y":33.6},{"p":"b","s":"B","x":20.71,"y":30.5},{"p":"b","s":"B","x":20.91,"y":27.5},{"p":"b","s":"B","x":23.24,"y":24.5},{"p":"b","s":"B","x":24.20,"y":21.5},{"p":"b","s":"B","x":23.38,"y":18.5},{"p":"b","s":"B","x":22.64,"y":15.5},{"p":"b","s":"B","x":21.07,"y":12.4},{"p":"b","s":"B","x":20.36,"y":9.4},{"p":"b","s":"B","x":19.95,"y":6.5},{"p":"b","s":"B","x":19.64,"y":3.4},{"p":"b","s":"B","x":19.34,"y":0.4},{"p":"b","s":"B","x":19.73,"y":-2.6},{"p":"b","s":"B","x":20.00,"y":-5.7},{"p":"b","s":"B","x":20.14,"y":-8.7},{"p":"b","s":"B","x":21.40,"y":-11.7},{"p":"b","s":"B","x":22.28,"y":-14.8},{"p":"b","s":"B","x":23.82,"y":-17.8},{"p":"b","s":"B","x":24.29,"y":-20.8},{"p":"b","s":"B","x":23.05,"y":-23.9},{"p":"b","s":"B","x":21.40,"y":-26.9},{"p":"b","s":"B","x":20.71,"y":-29.9},{"p":"b","s":"B","x":19.42,"y":-33.0},{"p":"b","s":"B","x":17.94,"y":-36.0},{"p":"b","s":"B","x":17.69,"y":-39.0},{"p":"b","s":"B","x":17.64,"y":-42.1},{"p":"b","s":"B","x":17.36,"y":-45.0},{"p":"b","s":"B","x":17.28,"y":-48.0},{"p":"b","s":"B","x":17.31,"y":-51.1},{"p":"b","s":"B","x":17.31,"y":-54.1},{"p":"b","s":"B","x":17.28,"y":-57.1},{"p":"b","s":"B","x":17.23,"y":-60.2},{"p":"b","s":"B","x":17.25,"y":-63.2},{"p":"b","s":"B","x":17.23,"y":-66.2},{"p":"b","s":"B","x":17.23,"y":-69.3},{"p":"b","s":"B","x":17.23,"y":-72.3},
      {"p":"b","s":"C","x":27.2,"y":70.0},{"p":"b","s":"C","x":27.2,"y":66.9},{"p":"b","s":"C","x":27.2,"y":63.9},{"p":"b","s":"C","x":27.3,"y":60.9},{"p":"b","s":"C","x":27.4,"y":57.8},{"p":"b","s":"C","x":27.4,"y":54.8},{"p":"b","s":"C","x":27.5,"y":51.7},{"p":"b","s":"C","x":27.5,"y":48.7},{"p":"b","s":"C","x":27.6,"y":45.7},{"p":"b","s":"C","x":28.0,"y":42.7},{"p":"b","s":"C","x":28.6,"y":39.6},{"p":"b","s":"C","x":29.5,"y":36.7},{"p":"b","s":"C","x":30.5,"y":33.6},{"p":"b","s":"C","x":31.5,"y":30.5},{"p":"b","s":"C","x":33.0,"y":27.5},{"p":"b","s":"C","x":34.0,"y":24.5},{"p":"b","s":"C","x":34.3,"y":21.5},{"p":"b","s":"C","x":33.5,"y":18.5},{"p":"b","s":"C","x":32.5,"y":15.5},{"p":"b","s":"C","x":31.3,"y":12.4},{"p":"b","s":"C","x":30.3,"y":9.4},{"p":"b","s":"C","x":29.6,"y":6.5},{"p":"b","s":"C","x":29.2,"y":3.4},{"p":"b","s":"C","x":29.0,"y":0.4},{"p":"b","s":"C","x":29.1,"y":-2.6},{"p":"b","s":"C","x":29.4,"y":-5.7},{"p":"b","s":"C","x":30.0,"y":-8.7},{"p":"b","s":"C","x":30.8,"y":-11.7},{"p":"b","s":"C","x":31.8,"y":-14.8},{"p":"b","s":"C","x":32.8,"y":-17.8},{"p":"b","s":"C","x":33.8,"y":-20.8},{"p":"b","s":"C","x":34.2,"y":-23.9},{"p":"b","s":"C","x":33.6,"y":-26.9},{"p":"b","s":"C","x":32.5,"y":-29.9},{"p":"b","s":"C","x":31.2,"y":-33.0},{"p":"b","s":"C","x":30.0,"y":-36.0},{"p":"b","s":"C","x":29.0,"y":-39.0},{"p":"b","s":"C","x":28.3,"y":-42.1},{"p":"b","s":"C","x":27.8,"y":-45.0},{"p":"b","s":"C","x":27.6,"y":-48.0},{"p":"b","s":"C","x":27.5,"y":-51.1},{"p":"b","s":"C","x":27.5,"y":-54.1},{"p":"b","s":"C","x":27.4,"y":-57.1},{"p":"b","s":"C","x":27.4,"y":-60.2},{"p":"b","s":"C","x":27.3,"y":-63.2},{"p":"b","s":"C","x":27.3,"y":-66.2},{"p":"b","s":"C","x":27.3,"y":-69.3},{"p":"b","s":"C","x":27.3,"y":-72.3},
      {"p":"b","s":"D","x":47.88,"y":70.2},{"p":"b","s":"D","x":48.10,"y":67.2},{"p":"b","s":"D","x":48.07,"y":64.3},{"p":"b","s":"D","x":48.15,"y":61.2},{"p":"b","s":"D","x":48.15,"y":58.4},{"p":"b","s":"D","x":48.15,"y":55.4},{"p":"b","s":"D","x":48.43,"y":52.4},{"p":"b","s":"D","x":48.92,"y":49.3},{"p":"b","s":"D","x":49.58,"y":46.3},{"p":"b","s":"D","x":49.99,"y":43.4},{"p":"b","s":"D","x":50.51,"y":40.4},{"p":"b","s":"D","x":50.86,"y":37.4},{"p":"b","s":"D","x":51.35,"y":34.4},{"p":"b","s":"D","x":51.85,"y":31.5},{"p":"b","s":"D","x":52.53,"y":28.5},{"p":"b","s":"D","x":52.80,"y":25.6},{"p":"b","s":"D","x":52.80,"y":22.5},{"p":"b","s":"D","x":51.98,"y":19.6},{"p":"b","s":"D","x":51.16,"y":16.6},{"p":"b","s":"D","x":48.15,"y":13.6},{"p":"b","s":"D","x":49.38,"y":10.7},{"p":"b","s":"D","x":48.78,"y":7.7},{"p":"b","s":"D","x":48.37,"y":4.8},{"p":"b","s":"D","x":48.32,"y":1.8},{"p":"b","s":"D","x":48.37,"y":-1.2},{"p":"b","s":"D","x":48.65,"y":-4.2},{"p":"b","s":"D","x":49.41,"y":-7.2},{"p":"b","s":"D","x":50.10,"y":-10.2},{"p":"b","s":"D","x":50.97,"y":-13.2},{"p":"b","s":"D","x":51.76,"y":-16.2},{"p":"b","s":"D","x":52.72,"y":-19.3},{"p":"b","s":"D","x":53.00,"y":-22.3},{"p":"b","s":"D","x":52.69,"y":-25.3},{"p":"b","s":"D","x":52.07,"y":-28.3},{"p":"b","s":"D","x":51.24,"y":-31.3},{"p":"b","s":"D","x":50.75,"y":-34.2},{"p":"b","s":"D","x":50.26,"y":-37.2},{"p":"b","s":"D","x":49.58,"y":-40.2},{"p":"b","s":"D","x":48.97,"y":-43.1},{"p":"b","s":"D","x":48.62,"y":-46.1},{"p":"b","s":"D","x":48.29,"y":-49.2},{"p":"b","s":"D","x":48.29,"y":-52.2},{"p":"b","s":"D","x":48.32,"y":-55.0},{"p":"b","s":"D","x":48.21,"y":-58.0},{"p":"b","s":"D","x":48.21,"y":-61.0},{"p":"b","s":"D","x":48.02,"y":-63.9},{"p":"b","s":"D","x":47.88,"y":-66.9},{"p":"b","s":"D","x":47.69,"y":-69.8},
      {"p":"b","s":"E","x":68.13,"y":70.2},{"p":"b","s":"E","x":68.54,"y":67.2},{"p":"b","s":"E","x":68.81,"y":64.3},{"p":"b","s":"E","x":68.95,"y":61.2},{"p":"b","s":"E","x":69.08,"y":58.4},{"p":"b","s":"E","x":69.17,"y":55.4},{"p":"b","s":"E","x":69.49,"y":52.4},{"p":"b","s":"E","x":69.63,"y":49.3},{"p":"b","s":"E","x":70.18,"y":46.3},{"p":"b","s":"E","x":70.37,"y":43.4},{"p":"b","s":"E","x":70.94,"y":40.4},{"p":"b","s":"E","x":71.05,"y":37.4},{"p":"b","s":"E","x":71.55,"y":34.4},{"p":"b","s":"E","x":71.90,"y":31.5},{"p":"b","s":"E","x":72.04,"y":28.5},{"p":"b","s":"E","x":71.68,"y":25.6},{"p":"b","s":"E","x":71.27,"y":22.5},{"p":"b","s":"E","x":70.67,"y":19.6},{"p":"b","s":"E","x":69.90,"y":16.6},{"p":"b","s":"E","x":69.14,"y":13.6},{"p":"b","s":"E","x":68.48,"y":10.7},{"p":"b","s":"E","x":68.21,"y":7.7},{"p":"b","s":"E","x":67.58,"y":4.8},{"p":"b","s":"E","x":67.63,"y":1.8},{"p":"b","s":"E","x":67.72,"y":-1.2},{"p":"b","s":"E","x":67.85,"y":-4.2},{"p":"b","s":"E","x":68.40,"y":-7.2},{"p":"b","s":"E","x":68.95,"y":-10.2},{"p":"b","s":"E","x":69.14,"y":-13.2},{"p":"b","s":"E","x":69.96,"y":-16.2},{"p":"b","s":"E","x":70.67,"y":-19.3},{"p":"b","s":"E","x":71.35,"y":-22.3},{"p":"b","s":"E","x":71.41,"y":-25.3},{"p":"b","s":"E","x":72.01,"y":-28.3},{"p":"b","s":"E","x":71.82,"y":-31.3},{"p":"b","s":"E","x":71.55,"y":-34.2},{"p":"b","s":"E","x":71.46,"y":-37.2},{"p":"b","s":"E","x":70.86,"y":-40.2},{"p":"b","s":"E","x":70.73,"y":-43.1},{"p":"b","s":"E","x":70.18,"y":-46.1},{"p":"b","s":"E","x":69.90,"y":-49.2},{"p":"b","s":"E","x":69.63,"y":-52.2},{"p":"b","s":"E","x":69.58,"y":-55.0},{"p":"b","s":"E","x":69.41,"y":-58.0},{"p":"b","s":"E","x":68.95,"y":-61.0},{"p":"b","s":"E","x":69.03,"y":-63.9}
    ]
  },
  "vconcat": [
    {
      "width": 854, "height": 612,
      "layer": [
        {
          "data": {"name": "zeros"},
          "transform": [{"filter": "datum.p == 'a'"}],
          "mark": {"type": "rule", "color": "black", "strokeWidth": 2.5, "strokeDash": [12, 7]},
          "encoding": {
            "x": {"field": "x", "type": "quantitative", "scale": {"domain": [0, 70], "nice": false, "zero": false},
              "axis": {"orient": "top", "title": null, "values": [0, 5, 10, 15, 20, 25, 30, 35, 40, 45, 50, 55, 60, 65, 70],
                "tickSize": {"condition": {"test": "datum.value % 10 === 0", "value": 11}, "value": 4},
                "labelExpr": "datum.value == 5 ? 'Plane_A' : datum.value == 15 ? 'Plane_B' : datum.value == 25 ? 'Plane_C' : datum.value == 45 ? 'Plane_D' : datum.value == 65 ? 'Plane_E' : ''",
                "labelFontSize": 17, "labelPadding": 1, "labelOverlap": false, "labelBound": false, "labelFlush": false}}
          }
        },
        {
          "data": {"name": "lines"},
          "transform": [{"filter": "datum.p == 'a'"}],
          "mark": {"type": "line", "interpolate": "catmull-rom", "color": "black", "strokeWidth": 2.8},
          "encoding": {
            "x": {"field": "x", "type": "quantitative", "scale": {"domain": [0, 70], "nice": false, "zero": false},
              "axis": {"orient": "bottom", "title": null, "domain": false, "values": [0, 5, 10, 15, 20, 25, 30, 35, 40, 45, 50, 55, 60, 65],
                "tickSize": {"condition": {"test": "datum.value % 10 === 0", "value": 10}, "value": 4},
                "tickOpacity": {"condition": {"test": "datum.value > 62", "value": 0}, "value": 1},
                "labelExpr": "datum.value == 5 ? '05 mm' : datum.value == 15 ? '15 mm' : datum.value == 25 ? '25 mm' : datum.value == 45 ? '45 mm' : datum.value == 65 ? '65 mm' : ''",
                "labelFontSize": 16.5, "labelPadding": 14, "labelOffset": 4, "labelOverlap": false, "labelBound": false, "labelFlush": false}},
            "y": {"field": "y", "type": "quantitative", "scale": {"domain": [-75.8, 75.8], "nice": false, "zero": false}, "axis": null},
            "detail": {"field": "s"},
            "order": {"field": "y", "sort": "descending"}
          }
        },
        {
          "data": {"name": "pts"},
          "transform": [{"filter": "datum.p == 'a'"}],
          "mark": {"type": "point", "shape": "circle", "filled": false, "color": "black", "strokeWidth": 2, "size": 30, "opacity": 1},
          "encoding": {
            "x": {"field": "x", "type": "quantitative", "axis": null},
            "y": {"field": "y", "type": "quantitative", "axis": null}
          }
        },
        {
          "data": {"values": [{}]},
          "mark": {"type": "rule", "color": "black", "strokeWidth": 2.5},
          "encoding": {"x": {"datum": 0, "type": "quantitative", "axis": null}, "y": {"datum": -75.8, "type": "quantitative", "axis": null}, "y2": {"datum": 75.8}}
        },
        {
          "data": {"name": "yticks"},
          "mark": {"type": "rule", "color": "black", "strokeWidth": 2.5},
          "encoding": {"x": {"datum": -0.9, "type": "quantitative", "axis": null}, "x2": {"datum": 0}, "y": {"field": "v", "type": "quantitative", "axis": null}}
        },
        {
          "data": {"name": "yticks"},
          "transform": [{"filter": "datum.v != 60"}],
          "mark": {"type": "text", "fontSize": 19, "font": "DejaVu Sans", "color": "black", "align": "right", "baseline": "middle"},
          "encoding": {"x": {"datum": -1.64, "type": "quantitative", "axis": null}, "y": {"field": "v", "type": "quantitative", "axis": null}, "text": {"field": "v", "type": "nominal"}}
        },
        {
          "data": {"values": [{}]},
          "mark": {"type": "text", "text": ["Distance fom", "centerline (mm)"], "angle": 270, "fontSize": 20, "font": "DejaVu Sans", "color": "black", "align": "center", "baseline": "middle", "lineHeight": 22},
          "encoding": {"x": {"datum": -4.02, "type": "quantitative", "axis": null}, "y": {"datum": 62.2, "type": "quantitative", "axis": null}}
        },
        {
          "data": {"values": [{}]},
          "mark": {"type": "rule", "color": "black", "strokeWidth": 2.5},
          "encoding": {"x": {"datum": 0, "type": "quantitative", "axis": null}, "x2": {"datum": 60}, "y": {"datum": -75.8, "type": "quantitative", "axis": null}}
        },
        {
          "data": {"values": [{}]},
          "mark": {"type": "rule", "color": "black", "strokeWidth": 3},
          "encoding": {"x": {"datum": 50.6, "type": "quantitative", "axis": null}, "x2": {"datum": 59.4}, "y": {"datum": 79.5, "type": "quantitative", "axis": null}}
        },
        {
          "data": {"values": [{}]},
          "mark": {"type": "point", "shape": "triangle-left", "filled": true, "color": "black", "size": 150, "opacity": 1},
          "encoding": {"x": {"datum": 50.55, "type": "quantitative", "axis": null}, "y": {"datum": 79.5, "type": "quantitative", "axis": null}}
        },
        {
          "data": {"values": [{}]},
          "mark": {"type": "point", "shape": "triangle-right", "filled": true, "color": "black", "size": 150, "opacity": 1},
          "encoding": {"x": {"datum": 59.45, "type": "quantitative", "axis": null}, "y": {"datum": 79.5, "type": "quantitative", "axis": null}}
        },
        {
          "data": {"values": [{}]},
          "mark": {"type": "text", "text": "60 m/s", "fontSize": 19, "font": "DejaVu Sans", "color": "black", "align": "center", "baseline": "middle"},
          "encoding": {"x": {"datum": 55, "type": "quantitative", "axis": null}, "y": {"datum": 83.6, "type": "quantitative", "axis": null}}
        },
        {
          "data": {"values": [{}]},
          "mark": {"type": "text", "text": "Dimensionless mean axial velocity profiles", "fontSize": 26, "font": "DejaVu Sans", "color": "black", "align": "left", "baseline": "alphabetic"},
          "encoding": {"x": {"datum": -5.08, "type": "quantitative", "axis": null}, "y": {"datum": 83.73, "type": "quantitative", "axis": null}}
        },
        {
          "data": {"name": "burner"},
          "mark": {"type": "rule", "color": "black", "strokeWidth": 2.5},
          "encoding": {"x": {"field": "x", "type": "quantitative", "axis": null}, "x2": {"field": "x2"}, "y": {"field": "y", "type": "quantitative", "axis": null}, "y2": {"field": "y2"}}
        },
        {
          "data": {"values": [{}]},
          "mark": {"type": "text", "text": ["Burner", "Exit"], "angle": 270, "fontSize": 19, "font": "DejaVu Sans", "color": "black", "align": "center", "baseline": "middle", "lineHeight": 22},
          "encoding": {"x": {"datum": -5.9, "type": "quantitative", "axis": null}, "y": {"datum": 0, "type": "quantitative", "axis": null}}
        },
        {
          "data": {"values": [{}]},
          "mark": {"type": "rect", "color": "white", "opacity": 1},
          "encoding": {"x": {"datum": 60.4, "type": "quantitative", "axis": null}, "x2": {"datum": 75.5}, "y": {"datum": -66.6, "type": "quantitative", "axis": null}, "y2": {"datum": -76.4}}
        },
        {
          "data": {"values": [{}]},
          "mark": {"type": "text", "text": ["Distance from", "Burner exit (mm)"], "fontSize": 19, "font": "DejaVu Sans", "color": "black", "align": "center", "baseline": "middle", "lineHeight": 23},
          "encoding": {"x": {"datum": 67.5, "type": "quantitative", "axis": null}, "y": {"datum": -69.7, "type": "quantitative", "axis": null}}
        },
        {
          "data": {"values": [{}]},
          "mark": {"type": "text", "text": "a)", "fontSize": 21, "font": "Liberation Serif", "color": "black", "align": "left", "baseline": "middle"},
          "encoding": {"x": {"datum": -10.1, "type": "quantitative", "axis": null}, "y": {"datum": -83.8, "type": "quantitative", "axis": null}}
        }
      ]
    },
    {
      "width": 854, "height": 612,
      "layer": [
        {
          "data": {"name": "zeros"},
          "transform": [{"filter": "datum.p == 'b'"}],
          "mark": {"type": "rule", "color": "black", "strokeWidth": 2.5, "strokeDash": [12, 7]},
          "encoding": {
            "x": {"field": "x", "type": "quantitative", "scale": {"domain": [0, 70], "nice": false, "zero": false},
              "axis": {"orient": "top", "title": null, "values": [0, 5, 10, 15, 20, 25, 30, 35, 40, 45, 50, 55, 60, 65, 70],
                "tickSize": {"condition": {"test": "datum.value % 10 === 0", "value": 11}, "value": 4},
                "labelExpr": "datum.value == 5 ? 'Plane_A' : datum.value == 15 ? 'Plane_B' : datum.value == 25 ? 'Plane_C' : datum.value == 45 ? 'Plane_D' : datum.value == 65 ? 'Plane_E' : ''",
                "labelFontSize": 17, "labelPadding": 1, "labelOverlap": false, "labelBound": false, "labelFlush": false}}
          }
        },
        {
          "data": {"name": "lines"},
          "transform": [{"filter": "datum.p == 'b'"}],
          "mark": {"type": "line", "interpolate": "catmull-rom", "color": "black", "strokeWidth": 2.8},
          "encoding": {
            "x": {"field": "x", "type": "quantitative", "scale": {"domain": [0, 70], "nice": false, "zero": false},
              "axis": {"orient": "bottom", "title": null, "domain": false, "values": [0, 5, 10, 15, 20, 25, 30, 35, 40, 45, 50, 55, 60, 65],
                "tickSize": {"condition": {"test": "datum.value % 10 === 0", "value": 10}, "value": 4},
                "tickOpacity": {"condition": {"test": "datum.value > 62", "value": 0}, "value": 1},
                "labelExpr": "datum.value == 5 ? '05 mm' : datum.value == 15 ? '15 mm' : datum.value == 25 ? '25 mm' : datum.value == 45 ? '45 mm' : datum.value == 65 ? '65 mm' : ''",
                "labelFontSize": 16.5, "labelPadding": 14, "labelOffset": 4, "labelOverlap": false, "labelBound": false, "labelFlush": false}},
            "y": {"field": "y", "type": "quantitative", "scale": {"domain": [-75.8, 75.8], "nice": false, "zero": false}, "axis": null},
            "detail": {"field": "s"},
            "order": {"field": "y", "sort": "descending"}
          }
        },
        {
          "data": {"name": "pts"},
          "transform": [{"filter": "datum.p == 'b'"}],
          "mark": {"type": "point", "shape": "circle", "filled": false, "color": "black", "strokeWidth": 2, "size": 30, "opacity": 1},
          "encoding": {
            "x": {"field": "x", "type": "quantitative", "axis": null},
            "y": {"field": "y", "type": "quantitative", "axis": null}
          }
        },
        {
          "data": {"values": [{}]},
          "mark": {"type": "rule", "color": "black", "strokeWidth": 2.5},
          "encoding": {"x": {"datum": 0, "type": "quantitative", "axis": null}, "y": {"datum": -75.8, "type": "quantitative", "axis": null}, "y2": {"datum": 75.8}}
        },
        {
          "data": {"name": "yticks"},
          "mark": {"type": "rule", "color": "black", "strokeWidth": 2.5},
          "encoding": {"x": {"datum": -0.9, "type": "quantitative", "axis": null}, "x2": {"datum": 0}, "y": {"field": "v", "type": "quantitative", "axis": null}}
        },
        {
          "data": {"name": "yticks"},
          "transform": [{"filter": "datum.v != 60"}],
          "mark": {"type": "text", "fontSize": 19, "font": "DejaVu Sans", "color": "black", "align": "right", "baseline": "middle"},
          "encoding": {"x": {"datum": -1.64, "type": "quantitative", "axis": null}, "y": {"field": "v", "type": "quantitative", "axis": null}, "text": {"field": "v", "type": "nominal"}}
        },
        {
          "data": {"values": [{}]},
          "mark": {"type": "text", "text": ["Distance fom", "centerline (mm)"], "angle": 270, "fontSize": 20, "font": "DejaVu Sans", "color": "black", "align": "center", "baseline": "middle", "lineHeight": 22},
          "encoding": {"x": {"datum": -4.02, "type": "quantitative", "axis": null}, "y": {"datum": 62.2, "type": "quantitative", "axis": null}}
        },
        {
          "data": {"values": [{}]},
          "mark": {"type": "rule", "color": "black", "strokeWidth": 2.5},
          "encoding": {"x": {"datum": 0, "type": "quantitative", "axis": null}, "x2": {"datum": 60}, "y": {"datum": -75.8, "type": "quantitative", "axis": null}}
        },
        {
          "data": {"values": [{}]},
          "mark": {"type": "rule", "color": "black", "strokeWidth": 3},
          "encoding": {"x": {"datum": 50.6, "type": "quantitative", "axis": null}, "x2": {"datum": 59.4}, "y": {"datum": 79.5, "type": "quantitative", "axis": null}}
        },
        {
          "data": {"values": [{}]},
          "mark": {"type": "point", "shape": "triangle-left", "filled": true, "color": "black", "size": 150, "opacity": 1},
          "encoding": {"x": {"datum": 50.55, "type": "quantitative", "axis": null}, "y": {"datum": 79.5, "type": "quantitative", "axis": null}}
        },
        {
          "data": {"values": [{}]},
          "mark": {"type": "point", "shape": "triangle-right", "filled": true, "color": "black", "size": 150, "opacity": 1},
          "encoding": {"x": {"datum": 59.45, "type": "quantitative", "axis": null}, "y": {"datum": 79.5, "type": "quantitative", "axis": null}}
        },
        {
          "data": {"values": [{}]},
          "mark": {"type": "text", "text": "40 m/s", "fontSize": 19, "font": "DejaVu Sans", "color": "black", "align": "center", "baseline": "middle"},
          "encoding": {"x": {"datum": 55, "type": "quantitative", "axis": null}, "y": {"datum": 83.6, "type": "quantitative", "axis": null}}
        },
        {
          "data": {"values": [{}]},
          "mark": {"type": "text", "text": "Dimensionless axial RMS velocity profiles", "fontSize": 26, "font": "DejaVu Sans", "color": "black", "align": "left", "baseline": "alphabetic"},
          "encoding": {"x": {"datum": -5.08, "type": "quantitative", "axis": null}, "y": {"datum": 83.73, "type": "quantitative", "axis": null}}
        },
        {
          "data": {"name": "burner"},
          "mark": {"type": "rule", "color": "black", "strokeWidth": 2.5},
          "encoding": {"x": {"field": "x", "type": "quantitative", "axis": null}, "x2": {"field": "x2"}, "y": {"field": "y", "type": "quantitative", "axis": null}, "y2": {"field": "y2"}}
        },
        {
          "data": {"values": [{}]},
          "mark": {"type": "text", "text": ["Burner", "Exit"], "angle": 270, "fontSize": 19, "font": "DejaVu Sans", "color": "black", "align": "center", "baseline": "middle", "lineHeight": 22},
          "encoding": {"x": {"datum": -5.9, "type": "quantitative", "axis": null}, "y": {"datum": 0, "type": "quantitative", "axis": null}}
        },
        {
          "data": {"values": [{}]},
          "mark": {"type": "rect", "color": "white", "opacity": 1},
          "encoding": {"x": {"datum": 60.4, "type": "quantitative", "axis": null}, "x2": {"datum": 75.5}, "y": {"datum": -66.6, "type": "quantitative", "axis": null}, "y2": {"datum": -76.4}}
        },
        {
          "data": {"values": [{}]},
          "mark": {"type": "text", "text": ["Distance from", "Burner exit (mm)"], "fontSize": 19, "font": "DejaVu Sans", "color": "black", "align": "center", "baseline": "middle", "lineHeight": 23},
          "encoding": {"x": {"datum": 67.5, "type": "quantitative", "axis": null}, "y": {"datum": -69.7, "type": "quantitative", "axis": null}}
        },
        {
          "data": {"values": [{}]},
          "mark": {"type": "text", "text": "b)", "fontSize": 21, "font": "Liberation Serif", "color": "black", "align": "left", "baseline": "middle"},
          "encoding": {"x": {"datum": -10.1, "type": "quantitative", "axis": null}, "y": {"datum": -86.0, "type": "quantitative", "axis": null}}
        }
      ]
    }
  ]
}
